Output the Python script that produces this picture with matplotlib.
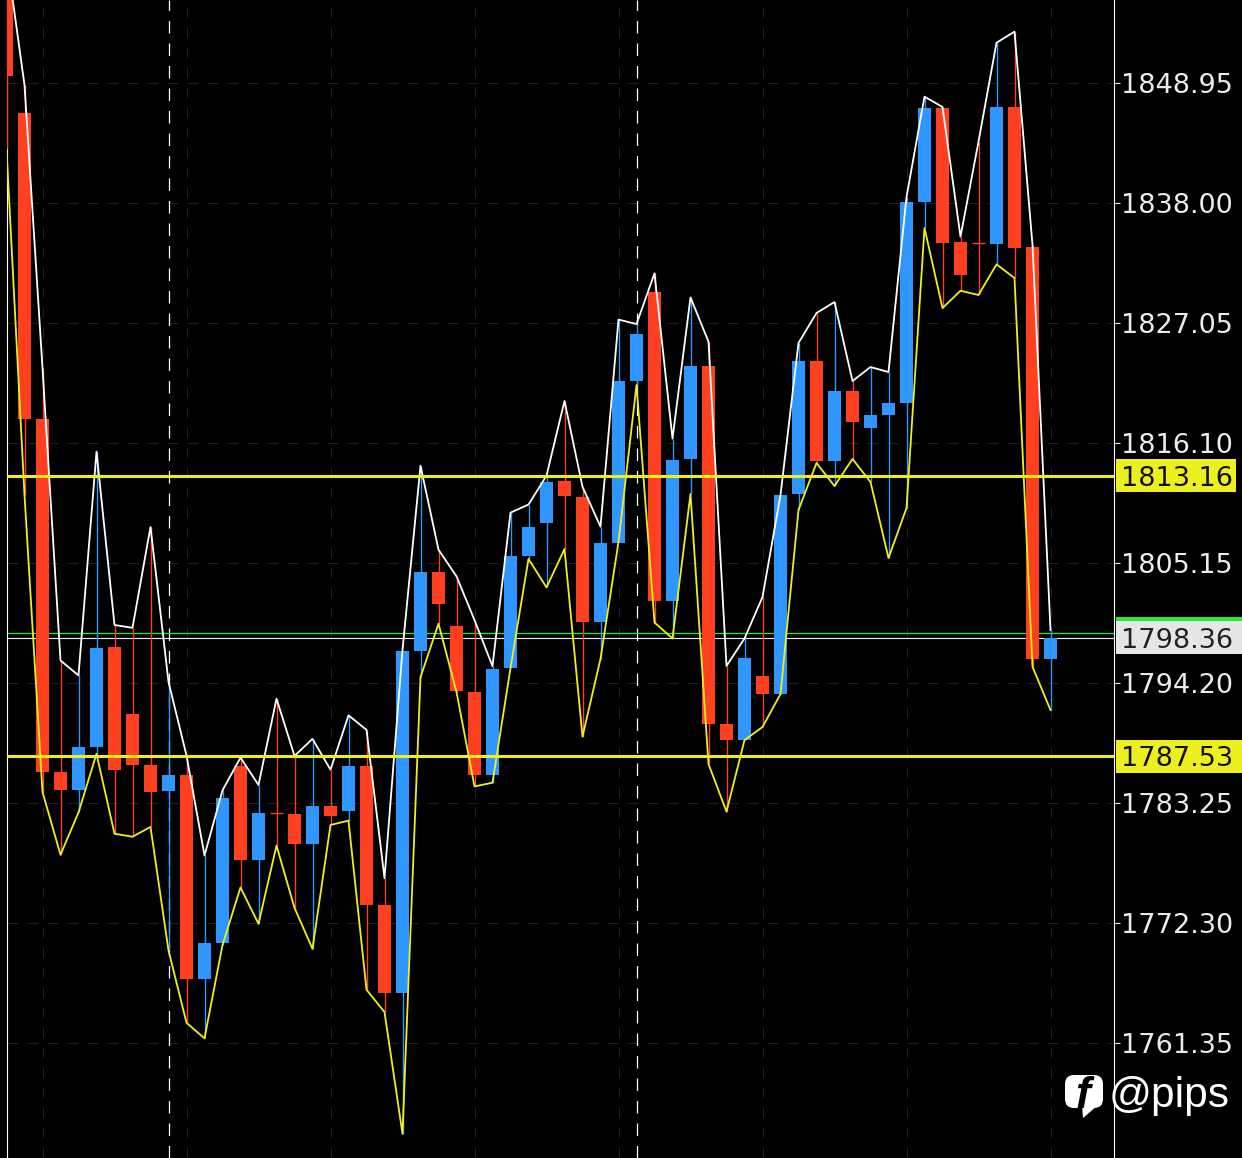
import matplotlib
matplotlib.use("Agg")
import matplotlib.pyplot as plt
from matplotlib.patches import Rectangle, FancyBboxPatch, Polygon
import numpy as np

opens = [1859.29, 1846.24, 1818.34, 1786.11, 1784.49, 1788.39, 1797.51, 1791.41, 1786.76, 1784.40,
         1785.83, 1767.25, 1770.50, 1786.67, 1778.09, 1782.32, 1782.28, 1779.49, 1783.00, 1782.57,
         1786.67, 1773.97, 1765.95, 1797.17, 1804.34, 1799.44, 1793.40, 1785.87, 1795.59, 1805.81,
         1808.83, 1812.67, 1811.20, 1799.75, 1807.00, 1821.78, 1829.92, 1801.74, 1814.67, 1823.15,
         1790.48, 1789.02, 1794.86, 1793.26, 1811.47, 1823.61, 1814.48, 1820.87, 1817.49, 1818.68,
         1819.78, 1838.14, 1846.69, 1834.47, 1834.35, 1834.28, 1846.79, 1834.01, 1796.39]
closes = [1849.57, 1818.34, 1786.15, 1784.49, 1788.39, 1797.42, 1786.31, 1786.76, 1784.30, 1785.83,
          1767.25, 1770.50, 1783.74, 1778.09, 1782.32, 1782.32, 1779.49, 1783.00, 1782.09, 1786.67,
          1773.97, 1765.95, 1797.16, 1804.34, 1801.43, 1793.50, 1785.87, 1795.50, 1805.81, 1808.46,
          1812.57, 1811.29, 1799.81, 1807.00, 1821.78, 1826.07, 1801.74, 1814.57, 1823.15, 1790.53,
          1789.02, 1796.51, 1793.26, 1811.38, 1823.61, 1814.48, 1820.87, 1818.04, 1818.68, 1819.78,
          1838.14, 1846.67, 1834.40, 1831.46, 1834.35, 1846.79, 1833.95, 1796.39, 1798.33]
highs = [1860.66, 1848.79, 1822.97, 1796.28, 1794.92, 1815.34, 1799.52, 1799.26, 1808.46, 1794.33,
         1787.61, 1778.49, 1784.43, 1787.42, 1784.92, 1792.80, 1787.57, 1789.13, 1786.31, 1791.28,
         1789.95, 1776.41, 1797.24, 1814.05, 1806.39, 1803.96, 1799.97, 1795.76, 1809.77, 1810.51,
         1813.14, 1819.96, 1812.13, 1808.49, 1827.39, 1826.98, 1831.61, 1816.52, 1829.41, 1825.37,
         1795.78, 1798.29, 1802.07, 1811.38, 1825.25, 1827.99, 1828.99, 1821.78, 1823.06, 1822.60,
         1838.57, 1847.73, 1846.79, 1834.95, 1843.62, 1852.65, 1853.66, 1834.19, 1799.06]
lows = [1842.95, 1811.38, 1784.28, 1778.55, 1782.41, 1787.77, 1780.47, 1780.20, 1781.09, 1769.82,
        1763.22, 1761.80, 1770.32, 1775.57, 1772.25, 1779.39, 1773.71, 1769.97, 1781.27, 1781.67,
        1766.24, 1764.20, 1753.09, 1794.75, 1799.64, 1793.40, 1784.79, 1785.13, 1795.59, 1805.55,
        1802.95, 1806.45, 1789.34, 1796.43, 1807.09, 1821.42, 1799.74, 1798.29, 1811.47, 1786.83,
        1782.49, 1789.02, 1790.21, 1793.22, 1810.01, 1814.30, 1812.20, 1814.67, 1812.57, 1805.63,
        1810.19, 1835.74, 1828.44, 1830.02, 1829.63, 1832.43, 1831.18, 1795.71, 1791.76]

tick_prices = [1848.95, 1838.00, 1827.05, 1816.10, 1805.15, 1794.20, 1783.25, 1772.30, 1761.35]
level_prices = [1813.16, 1787.53]
last_price = 1798.36
green_price = 1798.82
minor_grid = [2, 10, 18, 26, 34, 42, 50, 58]
session_lines = [9, 35]

RED = '#ff4020'
BLUE = '#2f96ff'
YEL = '#eef01e'
LAB_FONT = ['DejaVu Sans']
LAB_SIZE = 19.5
PX = 0.09125  # price per pixel

fig = plt.figure(figsize=(12.42, 11.58), dpi=100, facecolor='black')
ax = fig.add_axes([6.5/1242, 0, 1107/1242, 1], facecolor='black')
top = 1856.55
ax.set_xlim(0, 1107/18)
ax.set_ylim(top - 1158*PX, top)

xs = np.arange(len(opens))
for s in ['top', 'bottom']:
    ax.spines[s].set_visible(False)
for s in ['left', 'right']:
    ax.spines[s].set_color('white')
    ax.spines[s].set_linewidth(0.8)
ax.set_xticks([])
ax.yaxis.tick_right()
ax.set_yticks(tick_prices)
ax.set_yticklabels([f"{t:.2f}" for t in tick_prices], family=LAB_FONT, fontsize=LAB_SIZE, color='#ececec')
ax.tick_params(axis='y', colors='white', length=4, width=0.7, pad=1.5)
for t in ax.get_yticklabels():
    t.set_color('#ececec')

# grid
grid_style = (0, (10, 8))
ax.hlines(tick_prices, 0, 1107/18, colors='#1e1e1e', lw=0.8, linestyles=[grid_style], zorder=1)
ax.vlines(minor_grid, top - 1158*PX, top, colors='#1e1e1e', lw=0.8, linestyles=[grid_style], zorder=1)
ax.vlines(session_lines, top - 1158*PX, top, colors='white', lw=0.9, linestyles=[grid_style], zorder=1)

# current price lines go behind the candles
ax.axhline(green_price, color='#22dd33', lw=1.0, zorder=2)
ax.axhline(last_price, color='#f2f2f2', lw=0.8, zorder=2)

# candles
for x, o, c, h, l in zip(xs, opens, closes, highs, lows):
    col = BLUE if c > o else RED
    ax.vlines(x, l, h, colors=col, lw=1.0, zorder=3)
    if o == c:
        ax.hlines(o, x - 0.36, x + 0.36, colors=col, lw=1.0, zorder=3)
    else:
        ax.bar(x, abs(c - o), bottom=min(o, c), width=0.72, color=col, linewidth=0, zorder=4)

ax.plot(xs, highs, color='white', lw=1.3, zorder=5)
ax.plot(xs, lows, color=YEL, lw=1.3, zorder=5)

for lv in level_prices:
    ax.axhline(lv, color=YEL, lw=2.2, zorder=6)

# price labels right of the axis
tr = ax.get_yaxis_transform()
def ax_x(px):
    return (px - 6.5) / 1107

box_w = {1813.16: 120, 1787.53: 126}
for lv in level_prices:
    ax.add_patch(Rectangle((ax_x(1116), lv - 16.5*PX), box_w[lv]/1107, 33*PX, transform=tr,
                           color=YEL, lw=0, clip_on=False, zorder=7))
    ax.text(ax_x(1121), lv, f"{lv:.2f}", transform=tr, family=LAB_FONT, fontsize=LAB_SIZE, color='#111111',
            va='center_baseline', ha='left', clip_on=False, zorder=8)

ax.add_patch(Rectangle((ax_x(1116), last_price - 16.5*PX), 126/1107, 33*PX, transform=tr,
                       color='#e6e6e6', lw=0, clip_on=False, zorder=7))
ax.add_patch(Rectangle((ax_x(1116), last_price + 16.5*PX), 126/1107, 4*PX, transform=tr,
                       color='#22ee33', lw=0, clip_on=False, zorder=7))
ax.text(ax_x(1121), last_price, f"{last_price:.2f}", transform=tr, family=LAB_FONT, fontsize=LAB_SIZE,
        color='#222222', va='center_baseline', ha='left', clip_on=False, zorder=8)

# watermark, in pixel coords
ov = fig.add_axes([0, 0, 1, 1], facecolor='none')
ov.set_xlim(0, 1242)
ov.set_ylim(1158, 0)
ov.axis('off')
ov.add_patch(FancyBboxPatch((1073, 1083), 22, 17, boxstyle='round,pad=8,rounding_size=9', fc='white', ec='none'))
ov.add_patch(Polygon([(1082, 1105), (1083, 1118), (1097, 1106)], fc='white', ec='none'))
ov.text(1083, 1108, 'f', family=['Liberation Sans'], style='italic', weight='bold', fontsize=32,
        color='black', ha='center', va='baseline')
ov.text(1109, 1107, '@pips', family=['Liberation Sans'], fontsize=30.5, color='white', ha='left', va='baseline')

plt.savefig("out.png", dpi=100, facecolor='black')
